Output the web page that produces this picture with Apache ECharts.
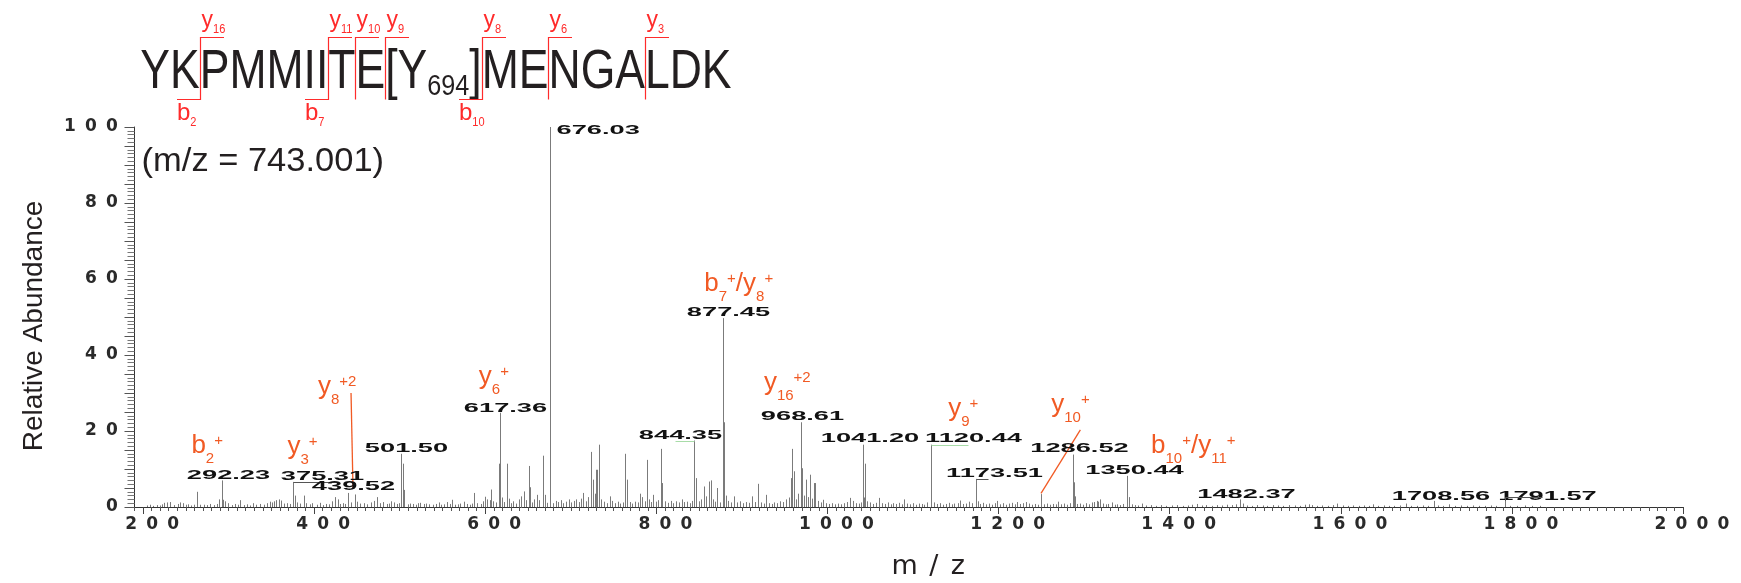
<!DOCTYPE html>
<html><head><meta charset="utf-8">
<script src="https://cdn.jsdelivr.net/npm/echarts@6/dist/echarts.min.js"></script>
<style>html,body{margin:0;padding:0;background:#fff}#c{width:1741px;height:583px}</style>
</head><body><div id="c"></div>
<script>
// ================= DATA =================
// MS/MS spectrum peaks: [m/z, relative abundance %]
const peaks = [
[205.1,0.4],[208.6,0.6],[212.0,0.3],[216.4,0.5],[219.8,0.4],[222.5,0.7],[225.0,1.1],[228.1,1.2],[231.2,1.3],[236.4,0.5],[240.5,0.8],[243.6,1.2],[246.7,1.0],[250.2,0.6],[252.0,0.7],[255.8,0.4],[259.0,0.6],[262.9,4.0],[266.8,0.6],[270.9,0.6],[274.5,0.5],[278.7,0.8],[283.4,0.5],[286.5,0.8],[289.2,2.0],[292.23,7.0],[294.0,1.9],[296.2,1.5],[298.9,1.0],
[303.6,0.5],[307.9,0.8],[310.5,0.6],[313.0,1.8],[317.5,0.5],[321.5,0.7],[325.2,0.4],[328.0,1.0],[332.6,0.6],[337.0,0.8],[341.2,0.6],[344.9,1.0],[348.8,1.4],[350.5,1.2],[352.7,1.5],[355.8,1.8],[358.5,2.0],[361.3,1.7],[365.0,0.9],[368.3,1.0],[372.1,0.8],[375.31,6.6],[377.6,3.0],[380.3,1.2],[384.0,0.9],[388.5,3.0],[391.0,1.0],[395.3,0.7],[398.0,1.0],
[403.5,0.6],[407.2,1.1],[410.8,0.5],[414.0,0.8],[417.9,0.7],[421.3,1.5],[424.7,2.6],[427.5,2.0],[430.6,0.8],[433.8,1.0],[436.1,0.8],[439.52,3.7],[443.0,1.2],[447.3,3.3],[450.0,1.4],[453.4,0.9],[457.8,1.0],[462.0,0.7],[466.5,1.2],[470.3,1.6],[473.5,2.6],[477.0,1.0],[480.5,1.3],[484.6,0.8],[487.9,0.9],[490.4,1.5],[493.0,1.2],[497.2,0.8],[499.4,1.0],[501.50,14.0],[503.8,11.4],[505.4,4.5],
[509.6,0.7],[512.0,0.9],[515.2,0.8],[519.0,0.6],[521.4,1.0],[524.0,1.1],[528.7,0.8],[531.0,0.9],[534.5,0.7],[538.4,0.6],[541.9,0.8],[545.5,1.2],[548.2,0.6],[552.1,0.7],[555.3,1.3],[558.5,0.8],[561.0,1.9],[564.6,0.6],[568.2,0.7],[571.0,0.9],[574.7,1.4],[578.3,0.8],[581.6,0.6],[584.0,0.9],[587.2,3.7],[590.8,1.0],[594.5,0.8],[597.9,1.5],[600.0,2.7],[602.0,2.0],
[605.1,1.8],[607.0,4.6],[609.6,1.5],[612.6,1.2],[616.0,11.4],[617.36,24.8],[619.6,2.5],[622.0,1.3],[625.4,11.4],[627.5,2.2],[630.5,1.0],[633.0,1.5],[636.3,0.9],[639.2,2.0],[641.8,2.8],[644.9,4.1],[647.6,1.8],[650.7,10.8],[651.9,5.2],[654.6,1.2],[657.0,2.0],[660.5,3.2],[663.0,1.8],[667.5,13.5],[669.4,3.2],[672.2,1.1],[676.03,100],
[679.4,1.0],[682.1,1.6],[685.0,1.3],[688.4,1.8],[691.0,1.0],[694.5,1.4],[697.9,2.0],[700.6,1.2],[703.2,1.6],[706.0,2.0],[709.5,1.3],[712.0,2.2],[714.5,3.7],[717.6,1.5],[720.4,2.6],[723.5,14.5],[725.7,7.2],[728.0,3.5],[729.7,9.8],[731.0,9.8],[732.9,16.4],[735.5,2.0],[738.9,1.4],[742.0,1.0],[745.8,2.8],[748.5,1.6],[751.6,1.0],[755.2,1.4],[758.0,0.9],[760.6,1.2],[763.7,14.0],[765.5,7.2],[768.9,1.3],[772.0,0.9],[775.2,1.4],[778.0,1.2],[780.7,3.5],[783.4,2.6],[786.5,1.5],[789.2,12.4],[791.5,2.0],[794.0,1.3],[796.0,3.2],[799.0,1.4],
[802.0,1.8],[805.3,15.3],[807.0,6.3],[810.1,1.5],[813.5,1.1],[816.8,1.6],[820.0,1.0],[823.4,1.5],[826.6,1.2],[829.5,2.0],[832.6,1.3],[835.8,1.4],[839.0,1.0],[841.5,1.6],[844.35,17.5],[846.0,7.6],[849.5,1.5],[852.4,2.0],[855.4,5.4],[858.5,2.8],[862.0,6.7],[864.0,7.0],[866.7,2.0],[869.0,1.4],[871.0,5.0],[874.0,1.2],[877.45,49.7],[879.0,22.3],[881.5,3.0],[884.2,1.6],[887.6,1.2],[891.0,2.8],[894.3,1.2],[897.8,1.5],
[901.0,1.0],[904.6,1.3],[908.0,1.1],[911.8,2.8],[915.0,1.3],[919.0,6.1],[922.5,1.2],[925.6,0.9],[928.0,3.2],[931.5,1.0],[934.6,0.8],[938.0,1.2],[941.4,1.0],[944.8,1.5],[948.0,1.3],[951.2,2.0],[954.6,2.5],[957.0,7.6],[958.8,15.3],[960.5,9.4],[963.4,2.0],[966.0,3.5],[968.61,22.3],[969.8,10.2],[972.0,3.0],[975.0,7.2],[977.3,2.6],[979.3,8.5],[981.5,2.2],[983.8,6.3],[986.0,6.3],[989.0,1.6],[992.3,1.2],[995.0,1.9],[998.4,1.0],
[1002.0,0.8],[1005.5,1.0],[1009.1,0.7],[1012.6,0.9],[1016.0,0.7],[1019.4,1.0],[1022.8,1.3],[1026.0,2.4],[1029.5,1.6],[1033.0,1.0],[1036.4,0.9],[1039.0,1.2],[1041.20,16.4],[1042.6,2.5],[1044.0,11.4],[1046.5,1.5],[1050.0,1.2],[1053.4,0.8],[1056.8,1.1],[1060.0,2.4],[1063.5,1.0],[1067.0,0.8],[1070.4,1.2],[1073.8,0.7],[1077.0,1.0],[1080.5,0.8],[1084.0,1.1],[1087.0,0.7],[1089.0,2.0],[1092.6,0.9],[1096.0,0.7],[1099.5,1.0],
[1103.0,0.6],[1106.5,0.9],[1110.0,0.8],[1113.4,0.6],[1116.6,1.2],[1120.44,16.4],[1121.5,9.1],[1124.0,1.2],[1127.5,0.8],[1131.0,1.0],[1134.6,0.6],[1138.0,0.8],[1141.5,1.1],[1145.0,0.7],[1148.4,0.9],[1152.0,1.0],[1155.0,1.7],[1158.4,0.8],[1162.0,0.9],[1165.6,1.4],[1169.0,1.0],[1173.51,7.4],[1176.0,1.5],[1178.6,0.8],[1182.0,1.1],[1185.5,0.7],[1189.0,0.9],[1192.4,0.6],[1195.6,1.0],[1198.0,1.6],
[1202.0,0.7],[1205.5,1.0],[1209.0,0.6],[1212.4,0.9],[1216.0,1.1],[1219.0,0.7],[1221.0,1.3],[1225.0,0.8],[1228.6,1.0],[1232.0,1.3],[1235.5,0.9],[1239.0,0.6],[1242.4,0.8],[1246.0,0.6],[1249.6,3.4],[1253.0,0.7],[1256.5,0.9],[1260.0,0.6],[1263.4,0.8],[1266.8,0.7],[1270.0,1.4],[1273.5,0.7],[1277.0,0.9],[1280.4,0.6],[1283.0,1.0],[1286.52,13.8],[1287.6,6.5],[1289.0,2.8],[1292.0,0.8],[1295.4,0.9],[1298.8,0.6],[1302.0,1.0],[1305.5,0.7],[1308.8,1.2],[1312.0,1.3],[1314.5,1.6],[1316.5,1.4],[1318.6,2.0],[1321.5,0.9],[1325.0,0.7],[1328.4,0.8],[1332.0,1.2],[1335.5,0.6],[1339.0,0.7],[1342.4,0.5],[1346.0,0.8],[1350.44,8.2],[1352.8,2.6],[1356.0,0.7],[1359.5,0.5],
[1363.0,0.4],[1367.6,0.9],[1372.0,0.4],[1378.5,0.5],[1384.0,0.3],[1390.2,0.5],[1396.0,0.3],[1402.5,0.4],[1409.0,0.5],[1415.4,0.3],[1421.0,0.4],[1426.5,0.6],[1432.0,0.8],[1437.6,0.4],[1443.0,0.5],[1449.5,0.3],[1455.0,0.5],[1461.4,0.4],[1467.0,0.6],[1472.5,0.5],[1478.0,0.7],[1482.37,2.0],[1485.5,0.9],[1490.0,0.4],[1496.4,0.3],[1502.0,0.5],[1508.5,0.4],[1514.0,0.3],[1520.6,0.5],[1527.0,0.4],[1533.0,0.3],[1539.5,0.5],[1546.0,0.4],[1552.0,0.3],[1558.6,0.6],[1563.0,0.7],[1566.4,0.5],[1572.0,0.3],[1578.5,0.4],[1585.0,0.3],[1591.0,0.5],[1596.0,0.9],[1602.4,0.4],[1608.0,0.3],[1614.5,0.4],[1621.0,0.3],[1627.0,0.4],[1632.5,0.3],[1637.7,0.7],[1643.0,0.3],[1650.0,0.4],[1656.4,0.3],[1662.0,0.3],[1669.0,0.4],[1676.0,0.9],[1682.0,0.3],[1689.5,0.3],[1696.0,0.4],[1702.0,0.3],[1708.56,1.6],[1714.0,0.4],[1720.0,0.3],[1727.0,0.7],[1733.6,0.3],[1740.0,0.4],[1747.0,0.3],[1754.5,0.4],[1761.0,0.3],[1768.0,0.3],[1775.0,0.4],[1782.0,0.3],[1791.57,1.5],[1798.0,0.3],[1806.0,0.3],[1815.0,0.4],[1824.0,0.3],[1833.0,0.3]
];
// m/z values of the peaks that carry a numeric label
const labeledMz = [292.23,375.31,439.52,501.50,617.36,676.03,844.35,877.45,968.61,1041.20,1120.44,1173.51,1286.52,1350.44,1482.37,1708.56,1791.57];
// axis tick labels
const xTickValues = [200,400,600,800,1000,1200,1400,1600,1800,2000];
const yTickValues = [0,20,40,60,80,100];
// texts
const precursorText = '(m/z = 743.001)';
const sequenceParts = ['YKPMMIITE[Y', '694', ']MENGALDK'];
// fragment cleavage sites: after residue n, y-ion number, b-ion number
const fragN = [2, 7, 8, 9, 10, 12, 15];
const fragY = [16, 11, 10, 9, 8, 6, 3];
const fragB = [2, 7, null, null, 10, null, null];
// assigned ion annotations: parts [text, kind] (m = main, d = subscript, u = superscript)
const ionParts = [
  [['b','m'],['2','d'],['+','u']],
  [['y','m'],['3','d'],['+','u']],
  [['y','m'],['8','d'],['+2','u']],
  [['y','m'],['6','d'],['+','u']],
  [['b','m'],['7','d'],['+','u'],['/','m'],['y','m'],['8','d'],['+','u']],
  [['y','m'],['16','d'],['+2','u']],
  [['y','m'],['9','d'],['+','u']],
  [['y','m'],['10','d'],['+','u']],
  [['b','m'],['10','d'],['+','u'],['/','m'],['y','m'],['11','d'],['+','u']]
];

// ================= LAYOUT / STYLE =================
// anchor (left, baseline) of each ion annotation, in axis units
const ionAnchor = [[256.5,13.8],[368.7,13.4],[404.4,29.2],[592.5,31.8],[856.0,56.3],[925.7,30.3],[1141.2,23.5],[1261.6,24.4],[1378.2,13.7]];
// leader lines for y8(+2) and y10(+), in axis units
const leaderY8 = [[443.1,30.0],[445.4,5.0]];
const leaderY10 = [[1295.6,20.3],[1249.6,3.6]];
const LABEL_LAYOUT = {
 '292.23':{dx:6,dy:-5}, '375.31':{dx:29,dy:-5,lead:[[0,0],[45,0]],lc:'#555'}, '439.52':{dx:5,dy:-6}, '501.50':{dx:5,dy:-5}, '617.36':{dx:5,dy:-4},
 '676.03':{dx:6,dy:4,align:'left'}, '844.35':{dx:-14,dy:-5,lead:[[-19,0],[0,0]],lc:'#a8dca8'}, '877.45':{dx:5,dy:-5}, '968.61':{dx:1,dy:-6},
 '1041.20':{dx:6.5,dy:-6}, '1120.44':{dx:42,dy:-6,lead:[[0,0],[37,0]],lc:'#a8dca8'}, '1173.51':{dx:18,dy:-5,lead:[[0,0],[12,0]],lc:'#555'},
 '1286.52':{dx:6,dy:-6}, '1350.44':{dx:7,dy:-5}, '1482.37':{dx:6,dy:-5}, '1708.56':{dx:6.5,dy:-4}, '1791.57':{dx:42,dy:-5,lead:[[0,0],[0,-4],[37,-4]],lc:'#555'}
};
const FONT = 'Liberation Sans';
const ORANGE = '#f15a24', RED = '#ff2b2b', INK = '#231f20';
const MID = 0.3465;
const c2d = document.createElement('canvas').getContext('2d');
function tw(t, font){ c2d.font = font; return c2d.measureText(t).width; }
function fnt(fs, w, fam){ return (w||'normal') + ' ' + fs + 'px "' + (fam||FONT) + '"'; }
function hasFont(name){ return Math.abs(tw('Relative Abundance','32px monospace') - tw('Relative Abundance','32px "'+name+'", monospace')) > 0.5; }
const narrowOK = hasFont('Liberation Sans Narrow');

function txt(t, x, base, fs, sx, color, weight){
  return {type:'text', x:x, y: base - MID*fs, scaleX: sx, silent:true,
    style:{text:t, fontSize:fs, fontFamily:FONT, fontWeight:weight||'normal', fill:color, align:'left', verticalAlign:'middle'}};
}

// ---- header: peptide sequence with fragment brackets ----
const header = [];
const SX = 0.795;
const xa = 140.3;
const xb = xa + tw(sequenceParts[0], fnt(56))*SX;
const xc = xb + tw(sequenceParts[1], fnt(29))*0.87;
header.push(txt(sequenceParts[0], xa, 91.7, 56, SX, INK));
header.push(txt(sequenceParts[1], xb, 97, 29, 0.87, INK));
header.push(txt(sequenceParts[2], xc, 91.7, 56, SX, INK));
function cutX(n){ return n <= 9 ? xa + tw(sequenceParts[0].slice(0,n), fnt(56))*SX : xc + tw(sequenceParts[2].slice(0,n-9), fnt(56))*SX; }
fragN.forEach((n, i) => {
  const x = Math.round(cutX(n)) + 0.5;
  const pts = [[x+23.5,37.5],[x,37.5],[x,99.5]];
  if (fragB[i]) pts.push([x-23.5,99.5]);
  header.push({type:'polyline', silent:true, shape:{points:pts}, style:{stroke:RED, lineWidth:1.2, fill:null}});
  header.push(txt('y', x+1, 28.6, 23, 1, RED));
  header.push(txt(String(fragY[i]), x+1+tw('y',fnt(23)), 33.5, 13, 0.85, RED));
  if (fragB[i]) {
    header.push(txt('b', x-23.5, 121.7, 24, 1, RED));
    header.push(txt(String(fragB[i]), x-23.5+tw('b',fnt(24)), 127, 13, 0.85, RED));
  }
});
header.push(txt(precursorText, 141.6, 173.3, 33, 1.045, INK));

// ---- helpers for axis labels (wide lettering) ----
const cells = v => String(v).split('').map(ch => '{d|' + ch + '}').join('');
const cellRich = {d:{width:21, align:'center', fontSize:17, fontWeight:'bold', fontFamily:'DejaVu Sans', color:'#2a2a2a', lineHeight:17}};

// ---- renderers ----
function renderPeak(params, api){
  const x = api.value(0), y = api.value(1);
  const a = api.coord([x, 0]), b = api.coord([x, y]);
  const px = Math.round(a[0]) + 0.5;
  return {type:'line', silent:true, shape:{x1:px, y1:a[1], x2:px, y2:b[1]}, style:{stroke:'#7b7b7b', lineWidth:1}};
}
function renderPeakLabel(params, api){
  const m = api.value(0), v = api.value(1);
  const p = api.coord([m, v]);
  const px = Math.round(p[0]) + 0.5;
  const key = labeledMz[params.dataIndex].toFixed(2);
  const L = LABEL_LAYOUT[key];
  const ch = [{type:'text', x:px+L.dx, y:p[1]+L.dy, scaleX:2.27, silent:true,
    style:{text:key, fontSize:12, fontWeight:'bold', fontFamily:FONT, fill:'#111', align:L.align||'center', verticalAlign:'middle'}}];
  if (L.lead) ch.push({type:'polyline', silent:true, shape:{points:L.lead.map(q => [px+q[0], Math.round(p[1]+q[1])+0.5])}, style:{stroke:L.lc, lineWidth:1, fill:null}});
  return {type:'group', children:ch};
}
function renderIon(params, api){
  const parts = ionParts[params.dataIndex];
  const p = api.coord([api.value(0), api.value(1)]);
  let x = p[0]; const B = p[1];
  const ch = [];
  parts.forEach(([t,k]) => {
    const fs = k === 'm' ? 26 : 15;
    const base = k === 'm' ? B : (k === 'd' ? B + 9 : B - 9);
    ch.push({type:'text', x:x, y:base - MID*fs, silent:true,
      style:{text:t, fontSize:fs, fontFamily:FONT, fill:ORANGE, align:'left', verticalAlign:'middle'}});
    x += tw(t, fnt(fs));
  });
  return {type:'group', children:ch};
}

const labelData = labeledMz.map(m => [m, peaks.find(p => p[0] === m)[1]]);
const nameRich = {
  m:{width:40, align:'center', fontSize:27, fontFamily:'DejaVu Sans', color:INK, lineHeight:26},
  s:{width:18, align:'center', fontSize:27, fontFamily:'DejaVu Sans', color:INK, lineHeight:26},
  z:{width:30, align:'center', fontSize:27, fontFamily:'DejaVu Sans', color:INK, lineHeight:26}};

const chart = echarts.init(document.getElementById('c'), null, {renderer:'canvas'});
chart.setOption({
  animation:false,
  backgroundColor:'#fff',
  grid:{left:134.5, right:58, top:127, bottom:76, containLabel:false, outerBoundsMode:'none'},
  xAxis:[{
    type:'value', min:190, max:2000, interval:10,
    axisLine:{show:true, onZero:false, lineStyle:{color:'#333', width:1}},
    axisTick:{show:true, length:4, lineStyle:{color:'#555', width:1}},
    axisLabel:{customValues:xTickValues, formatter:cells, rich:cellRich, margin:9, padding:[0,0,0,18]},
    splitLine:{show:false},
    name:'{m|m}{s|/}{z|z}', nameLocation:'middle', nameGap:47,
    nameTextStyle:{padding:[0,0,0,40], rich:nameRich}
  },{
    type:'value', min:190, max:2000, position:'bottom',
    axisLine:{show:false},
    axisTick:{show:true, customValues:xTickValues, length:7, lineStyle:{color:'#444', width:1}},
    axisLabel:{show:false}, splitLine:{show:false}
  }],
  yAxis:{
    type:'value', min:0, max:100, interval:5,
    axisLine:{show:true, onZero:false, lineStyle:{color:'#333', width:1}},
    axisTick:{show:true, length:10, lineStyle:{color:'#555', width:1}},
    minorTick:{show:true, splitNumber:5, length:7, lineStyle:{color:'#777', width:1}},
    axisLabel:{customValues:yTickValues, formatter:cells, rich:cellRich, margin:12},
    splitLine:{show:false}, minorSplitLine:{show:false},
    name:'Relative Abundance', nameLocation:'middle', nameGap:86,
    nameTextStyle:{fontFamily: narrowOK ? 'Liberation Sans Narrow' : FONT, fontSize: narrowOK ? 32 : 28, color:INK, padding:[0,18,0,0]}
  },
  graphic:header,
  series:[
    {type:'custom', name:'peaks', data:peaks, renderItem:renderPeak, z:2, silent:true},
    {type:'line', data:leaderY8, symbol:'none', lineStyle:{color:ORANGE, width:1.3}, z:3, silent:true},
    {type:'line', data:leaderY10, symbol:'none', lineStyle:{color:ORANGE, width:1.3}, z:3, silent:true},
    {type:'custom', name:'peak labels', data:labelData, renderItem:renderPeakLabel, z:4, silent:true},
    {type:'custom', name:'ion labels', data:ionAnchor, renderItem:renderIon, z:5, silent:true}
  ]
});
</script></body></html>
